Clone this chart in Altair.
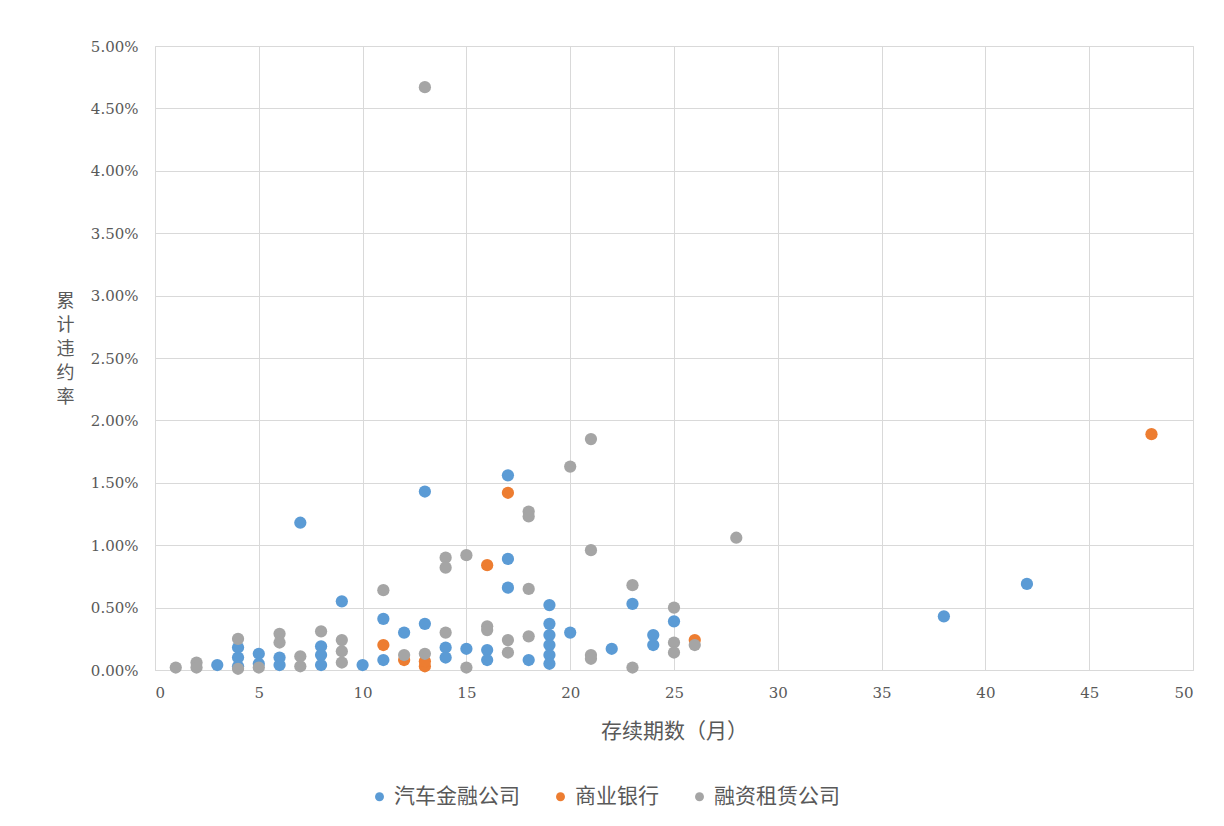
import altair as alt
import pandas as pd

series_names = ["汽车金融公司", "商业银行", "融资租赁公司"]
series_colors = ["#5B9BD5", "#ED7D31", "#A5A5A5"]

auto_x = [3, 4, 4, 4, 5, 5, 6, 6, 7, 8, 8, 8, 9, 10, 11, 11, 12, 13, 13, 14, 14, 15, 16, 16,
          17, 17, 17, 18, 19, 19, 19, 19, 19, 19, 20, 22, 23, 24, 24, 25, 38, 42]
auto_y = [0.04, 0.18, 0.10, 0.03, 0.13, 0.05, 0.10, 0.04, 1.18, 0.19, 0.12, 0.04, 0.55, 0.04,
          0.41, 0.08, 0.30, 1.43, 0.37, 0.18, 0.10, 0.17, 0.16, 0.08, 1.56, 0.89, 0.66, 0.08,
          0.52, 0.37, 0.28, 0.20, 0.12, 0.05, 0.30, 0.17, 0.53, 0.28, 0.20, 0.39, 0.43, 0.69]

bank_x = [11, 12, 13, 13, 16, 17, 26, 48]
bank_y = [0.20, 0.08, 0.03, 0.07, 0.84, 1.42, 0.24, 1.89]

lease_x = [1, 2, 2, 4, 4, 5, 6, 6, 7, 7, 8, 9, 9, 9, 11, 12, 13, 13, 14, 14, 14, 15, 15, 16,
           16, 17, 17, 18, 18, 18, 18, 20, 21, 21, 21, 21, 23, 23, 25, 25, 25, 26, 28]
lease_y = [0.02, 0.06, 0.02, 0.25, 0.01, 0.02, 0.29, 0.22, 0.11, 0.03, 0.31, 0.24, 0.15, 0.06,
           0.64, 0.12, 4.67, 0.13, 0.90, 0.82, 0.30, 0.92, 0.02, 0.35, 0.32, 0.24, 0.14, 1.27,
           1.23, 0.65, 0.27, 1.63, 1.85, 0.96, 0.12, 0.09, 0.68, 0.02, 0.50, 0.22, 0.14, 0.20,
           1.06]

x_ticks = [0, 5, 10, 15, 20, 25, 30, 35, 40, 45, 50]
y_ticks = [0, 0.005, 0.01, 0.015, 0.02, 0.025, 0.03, 0.035, 0.04, 0.045, 0.05]

rows = []
for name, xs, ys in zip(series_names, [auto_x, bank_x, lease_x], [auto_y, bank_y, lease_y]):
    for xv, yv in zip(xs, ys):
        rows.append({"期数": xv, "违约率": yv / 100.0, "类型": name})
df = pd.DataFrame(rows)

CJK = "Noto Sans CJK SC"
NUM = "DejaVu Serif"
TXT = "#595959"
GRID = "#D9D9D9"

chart = alt.Chart(df).mark_circle(size=150, opacity=1).encode(
    x=alt.X("期数:Q",
            scale=alt.Scale(domain=[0, 50], nice=False),
            axis=alt.Axis(values=x_ticks, title="存续期数（月）", grid=True, gridColor=GRID,
                          domainColor=GRID, ticks=False, labelFont=NUM, labelFontSize=15,
                          labelColor=TXT, labelPadding=15, titleFont=CJK, titleFontSize=21,
                          titleFontWeight="normal", titleColor=TXT, titlePadding=20)),
    y=alt.Y("违约率:Q",
            scale=alt.Scale(domain=[0, 0.05], nice=False),
            axis=alt.Axis(values=y_ticks, format=".2%", title=["累", "计", "违", "约", "率"],
                          grid=True, gridColor=GRID, domain=False, ticks=False,
                          labelFont=NUM, labelFontSize=15, labelColor=TXT, labelPadding=17,
                          titleFont=CJK, titleFontSize=18, titleFontWeight="normal",
                          titleColor=TXT, titleAngle=0, titleAlign="center",
                          titleBaseline="top", titleX=-90, titleY=246, titleLineHeight=24)),
    color=alt.Color("类型:N",
                    scale=alt.Scale(domain=series_names, range=series_colors),
                    sort=series_names,
                    legend=alt.Legend(title=None, orient="none", direction="horizontal",
                                      legendX=214, legendY=740, symbolType="circle",
                                      symbolSize=80, labelFont=CJK, labelFontSize=21,
                                      labelColor=TXT, columnPadding=30, labelOffset=4)),
).properties(
    width=1038, height=624,
    autosize=alt.AutoSizeParams(type="none"),
    padding={"left": 147, "top": 38, "right": 20, "bottom": 146},
).configure_view(stroke=None).configure(background="white")

chart.save("out.html", embed_options={"renderer": "svg", "actions": False})
